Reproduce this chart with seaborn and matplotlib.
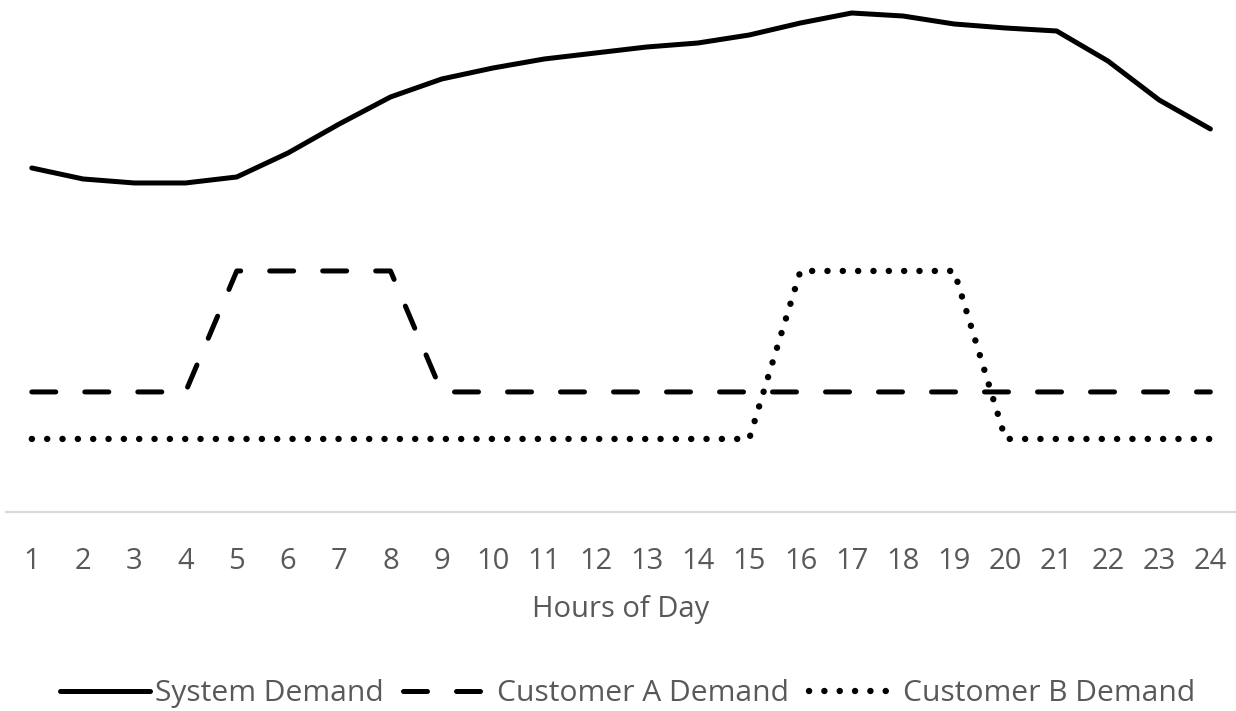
import matplotlib
matplotlib.use("Agg")
import matplotlib.pyplot as plt
import seaborn as sns
import pandas as pd

# 数据
hours = list(range(1, 25))
system_demand = [68.8, 66.6, 65.8, 65.8, 67.0, 71.8, 77.6, 83.0, 86.6, 88.8, 90.6, 91.8,
                 93.0, 93.8, 95.4, 97.8, 99.8, 99.2, 97.6, 96.8, 96.2, 90.2, 82.4, 76.6]
customer_a = [24, 24, 24, 24, 48.2, 48.2, 48.2, 48.2, 24, 24, 24, 24,
              24, 24, 24, 24, 24, 24, 24, 24, 24, 24, 24, 24]
customer_b = [14.6, 14.6, 14.6, 14.6, 14.6, 14.6, 14.6, 14.6, 14.6, 14.6, 14.6, 14.6,
              14.6, 14.6, 14.6, 48.2, 48.2, 48.2, 48.2, 14.6, 14.6, 14.6, 14.6, 14.6]
series_names = ["System Demand", "Customer A Demand", "Customer B Demand"]
x_label = "Hours of Day"

sns.set_style("white")
plt.rcParams['font.family'] = ['Open Sans', 'DejaVu Sans']

df = pd.DataFrame({"hour": hours, series_names[0]: system_demand,
                   series_names[1]: customer_a, series_names[2]: customer_b})

fig = plt.figure(figsize=(12.36, 7.11), dpi=100)
ax = fig.add_axes([0.005, 0.28, 0.995, 0.72])

text_color = "#595959"
fs = 21
lw = 3.6
dot_lw = 4.6

sns.lineplot(data=df, x="hour", y=series_names[0], ax=ax, color="black", lw=lw,
             label=series_names[0], solid_capstyle="round", solid_joinstyle="round")
sns.lineplot(data=df, x="hour", y=series_names[1], ax=ax, color="black", lw=lw,
             label=series_names[1], linestyle=(0, (4.8, 5.8)), dash_capstyle="round")
sns.lineplot(data=df, x="hour", y=series_names[2], ax=ax, color="black", lw=dot_lw,
             label=series_names[2], linestyle=(0, (0.02, 2.38)), dash_capstyle="round")

ax.set_xlim(0.5, 24.5)
ax.set_ylim(0, 102.4)
ax.set_xticks(hours)
ax.set_xticklabels([str(h) for h in hours])
ax.set_yticks([])
ax.set_ylabel("")
ax.set_xlabel(x_label, fontsize=fs, color=text_color, labelpad=14)
ax.tick_params(axis="x", length=0, pad=25, labelsize=fs, labelcolor=text_color)

for side in ["top", "left", "right"]:
    ax.spines[side].set_visible(False)
ax.spines["bottom"].set_color("#d9d9d9")
ax.spines["bottom"].set_linewidth(1.6)

# 图例放在底部
ax.legend_.remove()
handles, labels = ax.get_legend_handles_labels()
fig.legend(handles, labels, loc="center", bbox_to_anchor=(0.508, 0.024), ncol=3,
           frameon=False, fontsize=21.6, labelcolor=text_color,
           handlelength=3.0, handletextpad=0.15, columnspacing=0.65)

fig.savefig("out.png", dpi=100)
